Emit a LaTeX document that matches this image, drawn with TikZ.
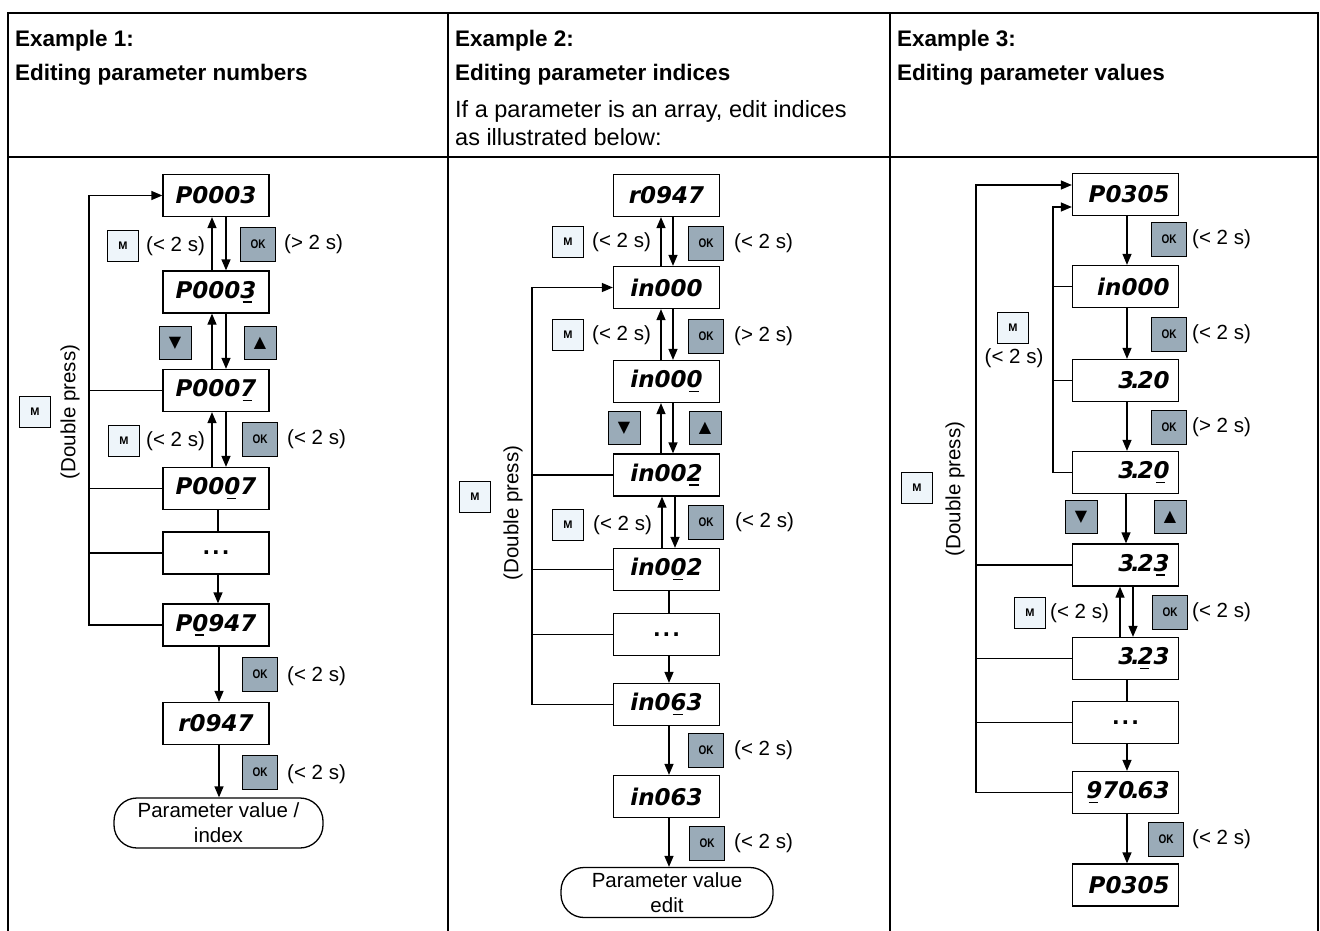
\documentclass[tikz,border=0pt]{standalone}
\usepackage{fontspec}
\usepackage{graphicx}
\setmainfont{Liberation Sans}
\newfontfamily\dejavu{DejaVu Sans}
\usetikzlibrary{arrows.meta}
\definecolor{mfill}{HTML}{EEF5FA}
\definecolor{okfill}{HTML}{9AABB8}
\newcommand\dispfnt{\dejavu\bfseries\itshape\fontsize{23}{23}\selectfont}
\newcommand\dsu[1]{\setbox0=\hbox{#1}\rlap{\kern0.1em\raisebox{-4.5pt}{\rule{0.42em}{1.6pt}}}\box0\relax}
\newcommand\dpt{\kern-0.14em.\kern-0.1em}
\newcommand\okt{\scalebox{0.8}[1]{OK}}
\newcommand\dts{.\kern2pt.\kern2pt.}
\begin{document}
\begin{tikzpicture}[x=1pt,y=-1pt,
  tbl/.style={line width=1.6pt},
  conn/.style={line width=1.3pt},
  arr/.style={line width=1.3pt,-{Triangle[length=11pt,width=9pt]}},
  disp/.style={draw,line width=1.3pt,minimum width=106pt,minimum height=42pt,inner sep=0pt,font=\dispfnt},
  dispr/.style={disp,text width=88pt,align=right},
  dots/.style={disp,font=\dejavu\bfseries\fontsize{20}{20}\selectfont},
  term/.style={draw,line width=1.3pt,rounded corners=23pt,minimum height=50pt,inner sep=0pt,align=center,font=\fontsize{20.5}{25}\selectfont},
  mkey/.style={draw,line width=0.9pt,fill=mfill,minimum width=31pt,minimum height=31pt,inner sep=0pt,font=\bfseries\fontsize{11}{11}\selectfont},
  okkey/.style={draw,line width=0.9pt,fill=okfill,minimum width=35pt,minimum height=34pt,inner sep=0pt,font=\bfseries\fontsize{12.5}{12.5}\selectfont},
  arkey/.style={draw,line width=0.9pt,fill=okfill,minimum width=32pt,minimum height=33pt,inner sep=0pt,font=\dejavu\fontsize{16}{16}\selectfont},
  lab/.style={font=\fontsize{20.5}{24}\selectfont,inner sep=0pt,anchor=west},
  hb/.style={font=\bfseries\fontsize{22.5}{26}\selectfont,inner sep=0pt,anchor=base west},
  hr/.style={font=\fontsize{23.5}{26}\selectfont,inner sep=0pt,anchor=base west}]
\useasboundingbox (0,0) rectangle (1320,931);
% table
\draw[tbl] (8,931) -- (8,13) -- (1318,13) -- (1318,931);
\draw[tbl] (448,13) -- (448,931);
\draw[tbl] (890,13) -- (890,931);
\draw[tbl] (8,157) -- (1318,157);
% headers
\node[hb] (h1a) at (15,47) {Example 1:};
\node[hb] (h1b) at (15,81) {Editing parameter numbers};
\node[hb] (h2a) at (455,47) {Example 2:};
\node[hb] (h2b) at (455,81) {Editing parameter indices};
\node[hr] (h2c) at (455,118) {If a parameter is an array, edit indices};
\node[hr] (h2d) at (455,146) {as illustrated below:};
\node[hb] (h3a) at (897,47) {Example 3:};
\node[hb] (h3b) at (897,81) {Editing parameter values};
% ===== column 1 =====
\node[disp] (a1) at (216,195.5) {P0003};
\node[disp] (a2) at (216,292) {P000\dsu{3}};
\node[disp] (a3) at (216,390.5) {P000\dsu{7}};
\node[disp] (a4) at (216,488.5) {P00\dsu{0}7};
\node[dots] (a5) at (216,553) {\dts};
\node[disp] (a6) at (216,625) {P\dsu{0}947};
\node[disp] (a7) at (216,723.5) {r0947};
\node[term,minimum width=209pt] (a8) at (218.5,823) {Parameter value /\\index};
\coordinate (L1) at (89,195.5);
\draw[arr] (a6.west) -| (L1) -- (a1.west);
\draw[conn] (a3.west) -- (a3.west -| L1);
\draw[conn] (a4.west) -- (a4.west -| L1);
\draw[conn] (a5.west) -- (a5.west -| L1);
\draw[arr] ([xshift=10pt]a1.south) -- ([xshift=10pt]a2.north);
\draw[arr] ([xshift=-4pt]a2.north) -- ([xshift=-4pt]a1.south);
\draw[arr] ([xshift=10pt]a2.south) -- ([xshift=10pt]a3.north);
\draw[arr] ([xshift=-4pt]a3.north) -- ([xshift=-4pt]a2.south);
\draw[arr] ([xshift=10pt]a3.south) -- ([xshift=10pt]a4.north);
\draw[arr] ([xshift=-4pt]a4.north) -- ([xshift=-4pt]a3.south);
\draw[conn] ([xshift=2pt]a4.south) -- ([xshift=2pt]a5.north);
\draw[arr] ([xshift=2pt]a5.south) -- ([xshift=2pt]a6.north);
\draw[arr] ([xshift=3pt]a6.south) -- ([xshift=3pt]a7.north);
\draw[arr] ([xshift=3pt]a7.south) -- ([xshift=0.5pt]a8.north);
\node[mkey] (k1) at (123,246) {M};
\node[lab] (t1) at (146,246) {(< 2 s)};
\node[okkey] (k2) at (258,244) {\okt};
\node[lab] (t2) at (284,244) {(> 2 s)};
\node[arkey] (k3) at (175,343) {▼};
\node[arkey] (k4) at (260,343) {▲};
\node[mkey] (k5) at (124,441) {M};
\node[lab] (t5) at (146,441) {(< 2 s)};
\node[okkey] (k6) at (260,439) {\okt};
\node[lab] (t6) at (287,439) {(< 2 s)};
\node[okkey] (k7) at (260,674) {\okt};
\node[lab] (t7) at (287,676) {(< 2 s)};
\node[okkey] (k8) at (260,772) {\okt};
\node[lab] (t8) at (287,774) {(< 2 s)};
\node[mkey] (k9) at (35,412) {M};
\node[lab,anchor=center,rotate=90] (t9) at (70,412) {(Double press)};
% ===== column 2 =====
\node[disp] (b1) at (666.5,195.5) {r0947};
\node[disp] (b2) at (666.5,287.5) {in000};
\node[disp] (b3) at (666.5,381.5) {in00\dsu{0}};
\node[disp] (b4) at (666.5,475) {in00\dsu{2}};
\node[disp] (b5) at (666.5,569.5) {in0\dsu{0}2};
\node[dots] (b6) at (666.5,634.5) {\dts};
\node[disp] (b7) at (666.5,704.5) {in0\dsu{6}3};
\node[disp] (b8) at (666.5,796.5) {in063};
\node[term,minimum width=212pt] (b9) at (667,892.5) {Parameter value\\edit};
\coordinate (L2) at (532,287.5);
\draw[arr] (b7.west) -| (L2) -- (b2.west);
\draw[conn] (b4.west) -- (b4.west -| L2);
\draw[conn] (b5.west) -- (b5.west -| L2);
\draw[conn] (b6.west) -- (b6.west -| L2);
\draw[arr] ([xshift=6.5pt]b1.south) -- ([xshift=6.5pt]b2.north);
\draw[arr] ([xshift=-5.5pt]b2.north) -- ([xshift=-5.5pt]b1.south);
\draw[arr] ([xshift=6.5pt]b2.south) -- ([xshift=6.5pt]b3.north);
\draw[arr] ([xshift=-5.5pt]b3.north) -- ([xshift=-5.5pt]b2.south);
\draw[arr] ([xshift=6.5pt]b3.south) -- ([xshift=6.5pt]b4.north);
\draw[arr] ([xshift=-5.5pt]b4.north) -- ([xshift=-5.5pt]b3.south);
\draw[arr] ([xshift=8.5pt]b4.south) -- ([xshift=8.5pt]b5.north);
\draw[arr] ([xshift=-4.5pt]b5.north) -- ([xshift=-4.5pt]b4.south);
\draw[conn] ([xshift=2.5pt]b5.south) -- ([xshift=2.5pt]b6.north);
\draw[arr] ([xshift=2.5pt]b6.south) -- ([xshift=2.5pt]b7.north);
\draw[arr] ([xshift=2.5pt]b7.south) -- ([xshift=2.5pt]b8.north);
\draw[arr] ([xshift=2.5pt]b8.south) -- ([xshift=2pt]b9.north);
\node[mkey] (m1) at (568,242) {M};
\node[lab] (u1) at (592,242) {(< 2 s)};
\node[okkey] (m2) at (706,243) {\okt};
\node[lab] (u2) at (734,243) {(< 2 s)};
\node[mkey] (m3) at (568,335) {M};
\node[lab] (u3) at (592,335) {(< 2 s)};
\node[okkey] (m4) at (706,336) {\okt};
\node[lab] (u4) at (734,336) {(> 2 s)};
\node[arkey] (m5) at (624,428) {▼};
\node[arkey] (m6) at (705,428) {▲};
\node[mkey] (m7) at (568,525) {M};
\node[lab] (u7) at (593,525) {(< 2 s)};
\node[okkey] (m8) at (706,522) {\okt};
\node[lab] (u8) at (735,522) {(< 2 s)};
\node[okkey] (m9) at (706,750) {\okt};
\node[lab] (u9) at (734,750) {(< 2 s)};
\node[okkey] (m10) at (707,843) {\okt};
\node[lab] (u10) at (734,843) {(< 2 s)};
\node[mkey] (m11) at (475,497) {M};
\node[lab,anchor=center,rotate=90] (u11) at (513,513) {(Double press)};
% ===== column 3 =====
\node[dispr] (c1) at (1125.5,194.5) {P0305};
\node[dispr] (c2) at (1125.5,286.5) {in000};
\node[dispr] (c3) at (1125.5,380.5) {3\dpt 20};
\node[dispr] (c4) at (1125.5,472.5) {3\dpt 2\dsu{0}};
\node[dispr] (c5) at (1125.5,565) {3\dpt 2\dsu{3}};
\node[dispr] (c6) at (1125.5,658.5) {3\dpt\dsu{2}3};
\node[dots] (c7) at (1125.5,722.5) {\dts};
\node[dispr] (c8) at (1125.5,792.5) {\dsu{9}70\dpt 63};
\node[dispr] (c9) at (1125.5,885) {P0305};
\coordinate (L3) at (976,185);
\coordinate (L3i) at (1053,207);
\draw[arr] (c8.west) -| (L3) -- ([yshift=9.5pt]c1.west);
\draw[arr] (c4.west) -| (L3i) -- ([yshift=-12.5pt]c1.west);
\draw[conn] (c2.west) -- (c2.west -| L3i);
\draw[conn] (c3.west) -- (c3.west -| L3i);
\draw[conn] (c5.west) -- (c5.west -| L3);
\draw[conn] (c6.west) -- (c6.west -| L3);
\draw[conn] (c7.west) -- (c7.west -| L3);
\draw[arr] ([xshift=1.5pt]c1.south) -- ([xshift=1.5pt]c2.north);
\draw[arr] ([xshift=1.5pt]c2.south) -- ([xshift=1.5pt]c3.north);
\draw[arr] ([xshift=1.5pt]c3.south) -- ([xshift=1.5pt]c4.north);
\draw[arr] ([xshift=0.5pt]c4.south) -- ([xshift=0.5pt]c5.north);
\draw[arr] ([xshift=7.5pt]c5.south) -- ([xshift=7.5pt]c6.north);
\draw[arr] ([xshift=-5.5pt]c6.north) -- ([xshift=-5.5pt]c5.south);
\draw[conn] ([xshift=1.5pt]c6.south) -- ([xshift=1.5pt]c7.north);
\draw[arr] ([xshift=1.5pt]c7.south) -- ([xshift=1.5pt]c8.north);
\draw[arr] ([xshift=1.5pt]c8.south) -- ([xshift=1.5pt]c9.north);
\node[okkey] (n1) at (1169,239) {\okt};
\node[lab] (v1) at (1192,239) {(< 2 s)};
\node[okkey] (n2) at (1169,334) {\okt};
\node[lab] (v2) at (1192,334) {(< 2 s)};
\node[okkey] (n3) at (1169,427) {\okt};
\node[lab] (v3) at (1192,427) {(> 2 s)};
\node[mkey] (n4) at (1013,328) {M};
\node[lab,anchor=center] (v4) at (1014,358) {(< 2 s)};
\node[arkey] (n5) at (1081,517) {▼};
\node[arkey] (n6) at (1170,517) {▲};
\node[mkey] (n7) at (1030,613) {M};
\node[lab] (v7) at (1050,613) {(< 2 s)};
\node[okkey] (n8) at (1170,612) {\okt};
\node[lab] (v8) at (1192,612) {(< 2 s)};
\node[okkey] (n9) at (1166,839) {\okt};
\node[lab] (v9) at (1192,839) {(< 2 s)};
\node[mkey] (n10) at (917,488) {M};
\node[lab,anchor=center,rotate=90] (v10) at (955,489) {(Double press)};
\end{tikzpicture}
\end{document}
